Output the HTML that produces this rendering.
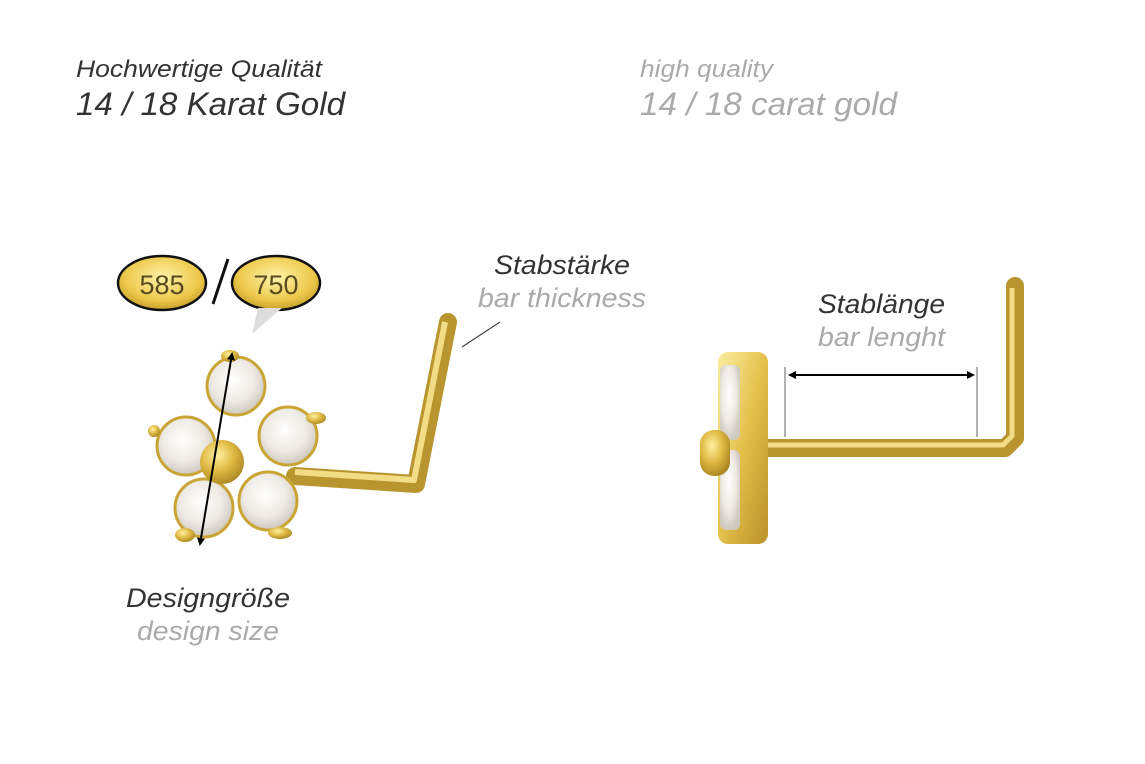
<!DOCTYPE html>
<html><head><meta charset="utf-8"><style>
html,body{margin:0;padding:0;background:#fff;}
svg{display:block;}
text{font-family:"Liberation Sans",sans-serif;font-style:italic;}
</style></head><body>
<svg width="1145" height="764" viewBox="0 0 1145 764" xmlns="http://www.w3.org/2000/svg">
<defs>
<linearGradient id="g" x1="0" y1="0" x2="1" y2="1">
<stop offset="0" stop-color="#fbeea0"/><stop offset="0.5" stop-color="#e3c04a"/><stop offset="1" stop-color="#b8912a"/>
</linearGradient>
<radialGradient id="ov" cx="0.5" cy="0.4" r="0.6">
<stop offset="0" stop-color="#fff3a8"/><stop offset="0.7" stop-color="#ecc94c"/><stop offset="1" stop-color="#c9a02a"/>
</radialGradient>
<radialGradient id="st" cx="0.45" cy="0.4" r="0.6">
<stop offset="0" stop-color="#ffffff"/><stop offset="0.6" stop-color="#eeeae4"/><stop offset="1" stop-color="#cfc9bf"/>
</radialGradient>
<radialGradient id="gc" cx="0.4" cy="0.35" r="0.7">
<stop offset="0" stop-color="#fff0a0"/><stop offset="0.5" stop-color="#e0bb45"/><stop offset="1" stop-color="#a88420"/>
</radialGradient>
<marker id="ah" markerWidth="8" markerHeight="8" refX="6" refY="4" orient="auto" markerUnits="userSpaceOnUse"><path d="M0,0 L8,4 L0,8 Z" fill="#000"/></marker>
<marker id="at" markerWidth="8" markerHeight="8" refX="2" refY="4" orient="auto" markerUnits="userSpaceOnUse"><path d="M8,0 L0,4 L8,8 Z" fill="#000"/></marker>
</defs>

<text x="76" y="77" font-size="24" fill="#333" textLength="246" lengthAdjust="spacingAndGlyphs">Hochwertige Qualität</text>
<text x="76" y="115" font-size="32" fill="#333" textLength="269" lengthAdjust="spacingAndGlyphs">14 / 18 Karat Gold</text>
<text x="640" y="77" font-size="24" fill="#aaa" textLength="133" lengthAdjust="spacingAndGlyphs">high quality</text>
<text x="640" y="115" font-size="32" fill="#aaa" textLength="257" lengthAdjust="spacingAndGlyphs">14 / 18 carat gold</text>

<text x="494" y="274" font-size="27" fill="#333" textLength="136" lengthAdjust="spacingAndGlyphs">Stabstärke</text>
<text x="478" y="307" font-size="27" fill="#aaa" textLength="168" lengthAdjust="spacingAndGlyphs">bar thickness</text>
<text x="126" y="607" font-size="27" fill="#333" textLength="164" lengthAdjust="spacingAndGlyphs">Designgröße</text>
<text x="137" y="640" font-size="27" fill="#aaa" textLength="142" lengthAdjust="spacingAndGlyphs">design size</text>
<text x="818" y="313" font-size="27" fill="#333" textLength="127" lengthAdjust="spacingAndGlyphs">Stablänge</text>
<text x="818" y="346" font-size="27" fill="#aaa" textLength="127" lengthAdjust="spacingAndGlyphs">bar lenght</text>

<ellipse cx="162" cy="283" rx="44" ry="27" fill="url(#ov)" stroke="#111" stroke-width="2.5"/>
<text x="162" y="294" font-size="27" fill="#5a4a20" text-anchor="middle" style="font-style:normal">585</text>
<ellipse cx="276" cy="283" rx="44" ry="27" fill="url(#ov)" stroke="#111" stroke-width="2.5"/>
<text x="276" y="294" font-size="27" fill="#5a4a20" text-anchor="middle" style="font-style:normal">750</text>
<line x1="228" y1="259" x2="213" y2="304" stroke="#111" stroke-width="3"/>
<polygon points="252,334 258,308 282,308" fill="#ddd"/>

<polyline points="295,476 416,484 448,322" fill="none" stroke="#b8952f" stroke-width="18" stroke-linejoin="round" stroke-linecap="round"/>
<polyline points="295,472 414,480 445,322" fill="none" stroke="#f2dc86" stroke-width="6" stroke-linejoin="round"/>
<line x1="462" y1="347" x2="500" y2="322" stroke="#444" stroke-width="1.2"/>

<g stroke="#c9a536" stroke-width="3">
<circle cx="236" cy="386" r="29" fill="url(#st)"/>
<circle cx="186" cy="446" r="29" fill="url(#st)"/>
<circle cx="288" cy="436" r="29" fill="url(#st)"/>
<circle cx="204" cy="508" r="29" fill="url(#st)"/>
<circle cx="268" cy="501" r="29" fill="url(#st)"/>
</g>
<circle cx="222" cy="462" r="22" fill="url(#gc)"/>
<g fill="url(#gc)">
<ellipse cx="230" cy="356" rx="9" ry="6"/>
<circle cx="154" cy="431" r="6"/>
<ellipse cx="316" cy="418" rx="10" ry="6"/>
<ellipse cx="185" cy="535" rx="10" ry="7"/>
<ellipse cx="280" cy="533" rx="12" ry="6"/>
</g>
<line x1="232" y1="354" x2="200" y2="544" stroke="#000" stroke-width="2" marker-start="url(#at)" marker-end="url(#ah)"/>

<polyline points="768,448 1005,448 1015,438 1015,286" fill="none" stroke="#b8952f" stroke-width="18" stroke-linejoin="round" stroke-linecap="round"/>
<polyline points="768,445 1003,445 1012,436 1012,288" fill="none" stroke="#f2dc86" stroke-width="5" stroke-linejoin="round"/>
<rect x="718" y="352" width="50" height="192" rx="10" fill="url(#g)"/>
<rect x="720" y="365" width="20" height="75" rx="6" fill="url(#st)"/>
<rect x="720" y="450" width="20" height="80" rx="6" fill="url(#st)"/>
<rect x="700" y="430" width="30" height="46" rx="14" fill="url(#gc)"/>
<line x1="785" y1="367" x2="785" y2="437" stroke="#999" stroke-width="1.5"/>
<line x1="977" y1="367" x2="977" y2="437" stroke="#999" stroke-width="1.5"/>
<line x1="790" y1="375" x2="973" y2="375" stroke="#000" stroke-width="2" marker-start="url(#at)" marker-end="url(#ah)"/>
</svg>
</body></html>
